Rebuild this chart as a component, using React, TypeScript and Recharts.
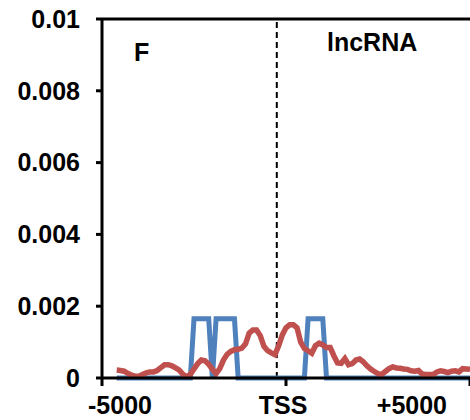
import { LineChart, Line, XAxis, YAxis, ReferenceLine } from "recharts"

// bin positions relative to TSS (bp)
const positions = [
  -4600, -4500, -4400, -4300, -4200, -4100, -4000, -3900, -3800, -3700,
  -3600, -3500, -3400, -3300, -3200, -3100, -3000, -2900, -2800, -2700,
  -2600, -2500, -2400, -2300, -2200, -2100, -2000, -1900, -1800, -1700,
  -1600, -1500, -1400, -1300, -1200, -1100, -1000, -900, -800, -700,
  -600, -500, -400, -300, -200, -100, 0, 100, 200, 300,
  400, 500, 600, 700, 800, 900, 1000, 1100, 1200, 1300,
  1400, 1500, 1600, 1700, 1800, 1900, 2000, 2100, 2200, 2300,
  2400, 2500, 2600, 2700, 2800, 2900, 3000, 3100, 3200, 3300,
  3400, 3500, 3600, 3700, 3800, 3900, 4000, 4100, 4200, 4300,
  4400, 4500, 4600, 4700, 4800, 4900, 5000,
]

const blueValues = [
  0, 0, 0, 0, 0, 0, 0, 0, 0, 0,
  0, 0, 0, 0, 0, 0, 0, 0, 0, 0,
  0, 0.00165, 0.00165, 0.00165, 0.00165, 0.00165, 0, 0.00165, 0.00165, 0.00165,
  0.00165, 0.00165, 0.00165, 0, 0, 0, 0, 0, 0, 0,
  0, 0, 0, 0, 0, 0, 0, 0, 0, 0,
  0, 0, 0.00165, 0.00165, 0.00165, 0.00165, 0.00165, 0, 0, 0,
  0, 0, 0, 0, 0, 0, 0, 0, 0, 0,
  0, 0, 0, 0, 0, 0, 0, 0, 0, 0,
  0, 0, 0, 0, 0, 0, 0, 0, 0, 0,
  0, 0, 0, 0, 0, 0, 0,
]

const redValues = [
  0.00022, 0.00021, 0.00019, 0.00013, 0.00008, 0.00005, 0.00005, 0.0001, 0.00014, 0.00017,
  0.00017, 0.00021, 0.00029, 0.00037, 0.00037, 0.00034, 0.00028, 0.00022, 0.0001, 0.00004,
  0.0001, 0.00025, 0.0004, 0.0005, 0.00048, 0.00038, 0.00024, 0.00012, 0.00026, 0.0005,
  0.00066, 0.00074, 0.00079, 0.0008, 0.00083, 0.00095, 0.00125, 0.00134, 0.00134, 0.00118,
  0.00088, 0.00076, 0.0007, 0.00065, 0.0009, 0.0012, 0.0014, 0.00148, 0.00148, 0.0014,
  0.001, 0.00082, 0.00076, 0.00069, 0.0009, 0.00097, 0.00092, 0.00085, 0.00085, 0.00062,
  0.00042, 0.00041, 0.00054, 0.00037, 0.0004, 0.0005, 0.00053, 0.00045, 0.00034, 0.00025,
  0.00018, 0.00012, 0.0001, 0.00018, 0.00026, 0.00031, 0.00028, 0.00027, 0.00025, 0.00024,
  0.0002, 0.00019, 0.00021, 0.00011, 0.0001, 0.0001, 0.0001, 0.00017, 0.0002, 0.00018,
  0.00015, 0.00019, 0.0002, 0.00017, 0.00026, 0.00025, 0.00024,
]

const xTicks = [-5000, 0, 5000]
const xTickLabels = ["-5000", "TSS", "+5000"]
const yTicks = [0, 0.002, 0.004, 0.006, 0.008, 0.01]
const tssLinePos = -250

const chartData = positions.map((pos, i) => ({
  pos,
  blue: blueValues[i],
  red: redValues[i],
}))

const font = "Arial, 'Liberation Sans', sans-serif"

const XTick = (props: any) => {
  const { x, y, index } = props
  const anchors = ["start", "middle", "end"]
  const shifts = [-14, -3, -7]
  return (
    <text
      x={x + shifts[index]}
      y={y + 26}
      textAnchor={anchors[index]}
      fontFamily={font}
      fontWeight="bold"
      fontSize={25}
      fill="#000"
    >
      {xTickLabels[index]}
    </text>
  )
}

export default function App() {
  return (
    <div style={{ position: "absolute", left: 0, top: 0, width: 470, height: 420, background: "#fff" }}>
      <LineChart width={470} height={420} data={chartData} margin={{ top: 19, right: 0, bottom: 0, left: 0 }}>
        <XAxis
          dataKey="pos"
          type="number"
          domain={[-5000, 5000]}
          ticks={xTicks}
          tick={<XTick />}
          tickSize={8}
          height={42}
          axisLine={{ stroke: "#000", strokeWidth: 3 }}
          tickLine={{ stroke: "#000", strokeWidth: 3 }}
        />
        <YAxis
          type="number"
          domain={[0, 0.01]}
          ticks={yTicks}
          width={102}
          tickSize={6}
          tickMargin={16}
          axisLine={{ stroke: "#000", strokeWidth: 3 }}
          tickLine={{ stroke: "#000", strokeWidth: 3 }}
          tick={{ fill: "#000", fontFamily: font, fontWeight: "bold", fontSize: 25 }}
        />
        <ReferenceLine y={0.01} stroke="#000" strokeWidth={3} />
        <ReferenceLine x={tssLinePos} stroke="#000" strokeWidth={2} strokeDasharray="6 4" />
        <Line type="linear" dataKey="blue" stroke="#4F81BD" strokeWidth={5} dot={false} isAnimationActive={false} />
        <Line type="linear" dataKey="red" stroke="#C0504D" strokeWidth={5.5} dot={false} isAnimationActive={false} />
      </LineChart>
      <div style={{ position: "absolute", left: 134, top: 38, fontFamily: font, fontWeight: "bold", fontSize: 25 }}>F</div>
      <div style={{ position: "absolute", left: 327, top: 28, fontFamily: font, fontWeight: "bold", fontSize: 25 }}>lncRNA</div>
    </div>
  )
}
